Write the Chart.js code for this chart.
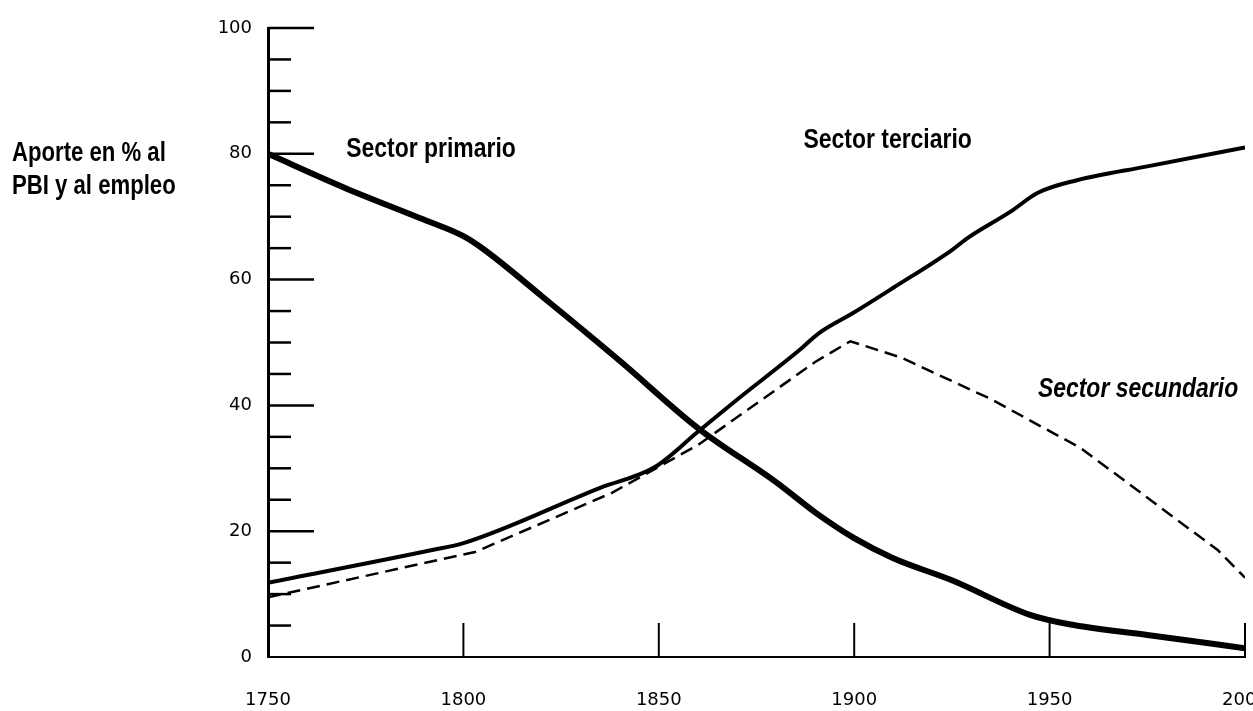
<!DOCTYPE html>
<html lang="es">
<head>
<meta charset="UTF-8" />
<title>Aporte por sector</title>
<script src="https://cdn.jsdelivr.net/npm/chart.js"></script>
<style>
  body { margin: 0; background: #fff; }
  canvas { display: block; }
</style>
</head>
<body>
<canvas id="chartSectores" width="1253" height="711"></canvas>

<script>
// datos (año, % aporte)
const primarioAnios   = [1750, 1770, 1790, 1800, 1805, 1820, 1840, 1860, 1880, 1890, 1900, 1910, 1925, 1945, 1955, 1975, 2000];
const primarioValores = [80, 74.5, 69.5, 66.9, 64.9, 57.4, 47.1, 36.4, 27.8, 23.0, 18.9, 15.7, 12.2, 6.7, 5.2, 3.5, 1.4];

const terciarioAnios   = [1750, 1792, 1800, 1835, 1849, 1860, 1870, 1886, 1891, 1900, 1910, 1925, 1929, 1940, 1947, 1957, 1975, 2000];
const terciarioValores = [11.8, 17.0, 18.1, 26.9, 30.2, 35.8, 40.9, 48.8, 51.5, 54.8, 58.7, 64.7, 66.6, 70.8, 73.8, 75.8, 78.0, 81.0];

const secundarioAnios   = [1750, 1803, 1838, 1860, 1890, 1899, 1912, 1935, 1958, 1993, 2000];
const secundarioValores = [9.5, 16.7, 26.1, 33.7, 46.9, 50.2, 47.6, 41.0, 33.2, 17.0, 12.6];

const aniosEje = [1750, 1800, 1850, 1900, 1950, 2000];
const valoresEje = [0, 20, 40, 60, 80, 100];

const tituloY = ["Aporte en % al", "PBI y al empleo"];
const etiquetas = ["Sector primario", "Sector terciario", "Sector secundario"];
// anclaje de cada etiqueta en coordenadas de datos (año, valor)
const etiquetasAnio  = [1770, 1887, 1947];
const etiquetasValor = [79.5, 80.9, 41.3];

function puntos(anios, valores) {
  return anios.map((a, i) => ({ x: a, y: valores[i] }));
}

function textoAngosto(ctx, texto, x, y, fuente) {
  ctx.save();
  ctx.font = fuente;
  ctx.fillStyle = '#000';
  ctx.textBaseline = 'alphabetic';
  ctx.textAlign = 'left';
  ctx.translate(x, y);
  ctx.scale(0.82, 1);
  ctx.fillText(texto, 0, 0);
  ctx.restore();
}

// marcas de los ejes hacia adentro del grafico
const marcasPlugin = {
  id: 'marcas',
  beforeDatasetsDraw(chart) {
    const ctx = chart.ctx;
    const xs = chart.scales.x, ys = chart.scales.y;
    const area = chart.chartArea;
    ctx.save();
    ctx.strokeStyle = '#000';
    ctx.lineWidth = 2.5;
    for (let v = 5; v <= 100; v += 5) {
      const py = ys.getPixelForValue(v);
      const largo = v % 20 === 0 ? 46 : 23;
      ctx.beginPath();
      ctx.moveTo(area.left, py);
      ctx.lineTo(area.left + largo, py);
      ctx.stroke();
    }
    ctx.lineWidth = 2;
    aniosEje.slice(1).forEach(a => {
      const px = xs.getPixelForValue(a);
      ctx.beginPath();
      ctx.moveTo(px, area.bottom);
      ctx.lineTo(px, area.bottom - 34);
      ctx.stroke();
    });
    ctx.restore();
  },
  afterDraw(chart) {
    const ctx = chart.ctx;
    const xs = chart.scales.x, ys = chart.scales.y;
    const y80 = ys.getPixelForValue(80);
    textoAngosto(ctx, tituloY[0], 12, y80 + 7, 'bold 27px "Liberation Sans", Arial, sans-serif');
    textoAngosto(ctx, tituloY[1], 12, y80 + 40, 'bold 27px "Liberation Sans", Arial, sans-serif');
    etiquetas.forEach((t, i) => {
      const fuente = i === 2 ? 'italic bold 28px "Liberation Sans", Arial, sans-serif'
                             : 'bold 28px "Liberation Sans", Arial, sans-serif';
      textoAngosto(ctx, t, xs.getPixelForValue(etiquetasAnio[i]), ys.getPixelForValue(etiquetasValor[i]), fuente);
    });
  }
};

const chart = new Chart(document.getElementById('chartSectores'), {
  type: 'line',
  data: {
    datasets: [
      {
        label: 'Sector primario',
        data: puntos(primarioAnios, primarioValores),
        borderColor: '#000',
        borderWidth: 6,
        pointRadius: 0,
        cubicInterpolationMode: 'monotone'
      },
      {
        label: 'Sector terciario',
        data: puntos(terciarioAnios, terciarioValores),
        borderColor: '#000',
        borderWidth: 4,
        pointRadius: 0,
        cubicInterpolationMode: 'monotone'
      },
      {
        label: 'Sector secundario',
        data: puntos(secundarioAnios, secundarioValores),
        borderColor: '#000',
        borderWidth: 2.5,
        borderDash: [13, 7],
        pointRadius: 0,
        tension: 0
      }
    ]
  },
  options: {
    responsive: false,
    animation: false,
    layout: { padding: { top: 28, right: 8, left: 0, bottom: 0 } },
    plugins: {
      legend: { display: false },
      tooltip: { enabled: false }
    },
    scales: {
      x: {
        type: 'linear',
        min: 1750,
        max: 2000,
        grid: { display: false, drawTicks: false },
        border: { display: true, color: '#000', width: 2 },
        afterBuildTicks: s => { s.ticks = aniosEje.map(v => ({ value: v })); },
        ticks: {
          color: '#000',
          padding: 33,
          maxRotation: 0,
          autoSkip: false,
          font: { family: 'DejaVu Sans', size: 18 },
          callback: v => String(v)
        },
        afterFit: s => { s.height = 54; s.paddingLeft = 0; s.paddingRight = 0; }
      },
      y: {
        min: 0,
        max: 100,
        grid: { display: false, drawTicks: false },
        border: { display: true, color: '#000', width: 3 },
        afterBuildTicks: s => { s.ticks = valoresEje.map(v => ({ value: v })); },
        ticks: {
          color: '#000',
          padding: 16,
          font: { family: 'DejaVu Sans', size: 18 }
        },
        afterFit: s => { s.width = 268; }
      }
    }
  },
  plugins: [marcasPlugin]
});
</script>
</body>
</html>
